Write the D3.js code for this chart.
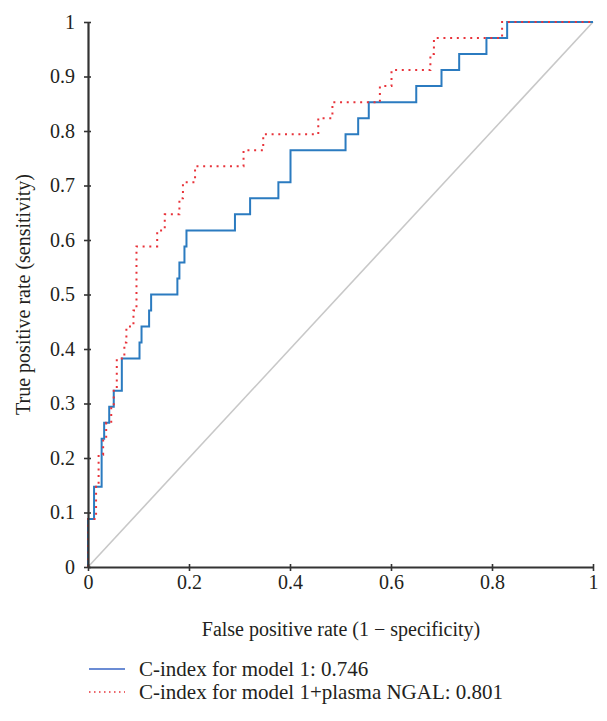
<!DOCTYPE html>
<html>
<head>
<meta charset="utf-8">
<script src="https://cdn.jsdelivr.net/npm/d3@7"></script>
<style>
html,body{margin:0;padding:0;background:#fff;}
svg{display:block;}
</style>
</head>
<body>
<svg id="chart" width="607" height="721"></svg>
<script>
// Blue step curve: model 1 (fpr, tpr) corner points
const model1FPR = [0, 0, 0.012, 0.012, 0.027, 0.027, 0.032, 0.032, 0.042, 0.042, 0.051, 0.051, 0.067, 0.067, 0.102, 0.102, 0.106, 0.106, 0.121, 0.121, 0.125, 0.125, 0.177, 0.177, 0.181, 0.181, 0.191, 0.191, 0.195, 0.195, 0.291, 0.291, 0.321, 0.321, 0.377, 0.377, 0.401, 0.401, 0.510, 0.510, 0.535, 0.535, 0.556, 0.556, 0.650, 0.650, 0.700, 0.700, 0.735, 0.735, 0.789, 0.789, 0.830, 0.830, 1];
const model1TPR = [0, 3, 3, 5, 5, 8, 8, 9, 9, 10, 10, 11, 11, 13, 13, 14, 14, 15, 15, 16, 16, 17, 17, 18, 18, 19, 19, 20, 20, 21, 21, 22, 22, 23, 23, 24, 24, 26, 26, 27, 27, 28, 28, 29, 29, 30, 30, 31, 31, 32, 32, 33, 33, 34, 34];
// Red dotted step curve: model 1 + plasma NGAL
const model2FPR = [0, 0, 0.016, 0.016, 0.021, 0.021, 0.030, 0.030, 0.036, 0.036, 0.046, 0.046, 0.051, 0.051, 0.057, 0.057, 0.072, 0.072, 0.076, 0.076, 0.090, 0.090, 0.096, 0.096, 0.137, 0.137, 0.152, 0.152, 0.181, 0.181, 0.188, 0.188, 0.212, 0.212, 0.308, 0.308, 0.347, 0.347, 0.456, 0.456, 0.484, 0.484, 0.578, 0.578, 0.601, 0.601, 0.678, 0.678, 0.685, 0.685, 0.820, 0.820, 1];
const model2TPR = [0, 3, 3, 5, 5, 7, 7, 8, 8, 9, 9, 10, 10, 11, 11, 13, 13, 14, 14, 15, 15, 16, 16, 20, 20, 21, 21, 22, 22, 23, 23, 24, 24, 25, 25, 26, 26, 27, 27, 28, 28, 29, 29, 30, 30, 31, 31, 32, 32, 33, 33, 34, 34];
const positives = 34;
const xTicks = [0, 0.2, 0.4, 0.6, 0.8, 1];
const yTicks = [0, 0.1, 0.2, 0.3, 0.4, 0.5, 0.6, 0.7, 0.8, 0.9, 1];
const legendLabels = ["C-index for model 1: 0.746", "C-index for model 1+plasma NGAL: 0.801"];
const xTitle = "False positive rate (1 \u2212 specificity)";
const yTitle = "True positive rate (sensitivity)";

const svg = d3.select("#chart");
const x = d3.scaleLinear().domain([0, 1]).range([88, 593]);
const y = d3.scaleLinear().domain([0, 1]).range([567, 22]);
const font = "'Liberation Serif', 'Times New Roman', serif";
const fs = "20px";

// diagonal reference
svg.append("line")
  .attr("x1", x(0)).attr("y1", y(0)).attr("x2", x(1)).attr("y2", y(1))
  .attr("stroke", "#c8c8c8").attr("stroke-width", 1.6);

const line = d3.line().x(d => x(d[0])).y(d => y(d[1]));
const s1 = model1FPR.map((f, i) => [f, model1TPR[i] / positives]);
const s2 = model2FPR.map((f, i) => [f, model2TPR[i] / positives]);

svg.append("path").datum(s1).attr("d", line)
  .attr("fill", "none").attr("stroke", "#2b7bc0").attr("stroke-width", 2);
svg.append("path").datum(s2).attr("d", line)
  .attr("fill", "none").attr("stroke", "#e8333a").attr("stroke-width", 2)
  .attr("stroke-dasharray", "2,4.7");

// axes
const xAxis = d3.axisBottom(x).tickValues(xTicks).tickFormat(d3.format("")).tickSize(7).tickSizeOuter(0);
const yAxis = d3.axisLeft(y).tickValues(yTicks).tickFormat(d3.format("")).tickSize(7).tickSizeOuter(0);

const gx = svg.append("g").attr("transform", `translate(0,${y(0)})`).call(xAxis);
const gy = svg.append("g").attr("transform", `translate(${x(0)},0)`).call(yAxis);
[gx, gy].forEach(g => {
  g.select(".domain").attr("stroke", "#333").attr("stroke-width", 2.2);
  g.selectAll(".tick line").attr("stroke", "#333").attr("stroke-width", 1.6);
  g.selectAll(".tick text").attr("fill", "#231f20").style("font-family", font).style("font-size", fs);
});
gx.selectAll(".tick line").attr("y1", -3).attr("y2", 4);
gx.selectAll(".tick text").attr("y", 8);
gy.selectAll(".tick line").attr("x1", 3).attr("x2", -4);
gy.selectAll(".tick text").attr("x", -13);

svg.append("text").attr("x", 341).attr("y", 636).attr("text-anchor", "middle")
  .style("font-family", font).style("font-size", fs).attr("fill", "#231f20").text(xTitle);
svg.append("text").attr("transform", `translate(30,${y(0.5)}) rotate(-90)`).attr("text-anchor", "middle")
  .style("font-family", font).style("font-size", fs).attr("fill", "#231f20").text(yTitle);

// legend
const lg = svg.append("g");
const legendColors = ["#3a66c6", "#e8333a"];
const legendDash = [null, "1.5,3.5"];
legendLabels.forEach((t, i) => {
  const yy = 669 + i * 23;
  lg.append("line").attr("x1", 89).attr("x2", 125).attr("y1", yy).attr("y2", yy)
    .attr("stroke", legendColors[i]).attr("stroke-width", i === 0 ? 1.6 : 1.5)
    .attr("stroke-dasharray", legendDash[i]);
  lg.append("text").attr("x", 139).attr("y", yy + 7)
    .style("font-family", font).style("font-size", "21px").attr("fill", "#231f20").text(t);
});
</script>
</body>
</html>
